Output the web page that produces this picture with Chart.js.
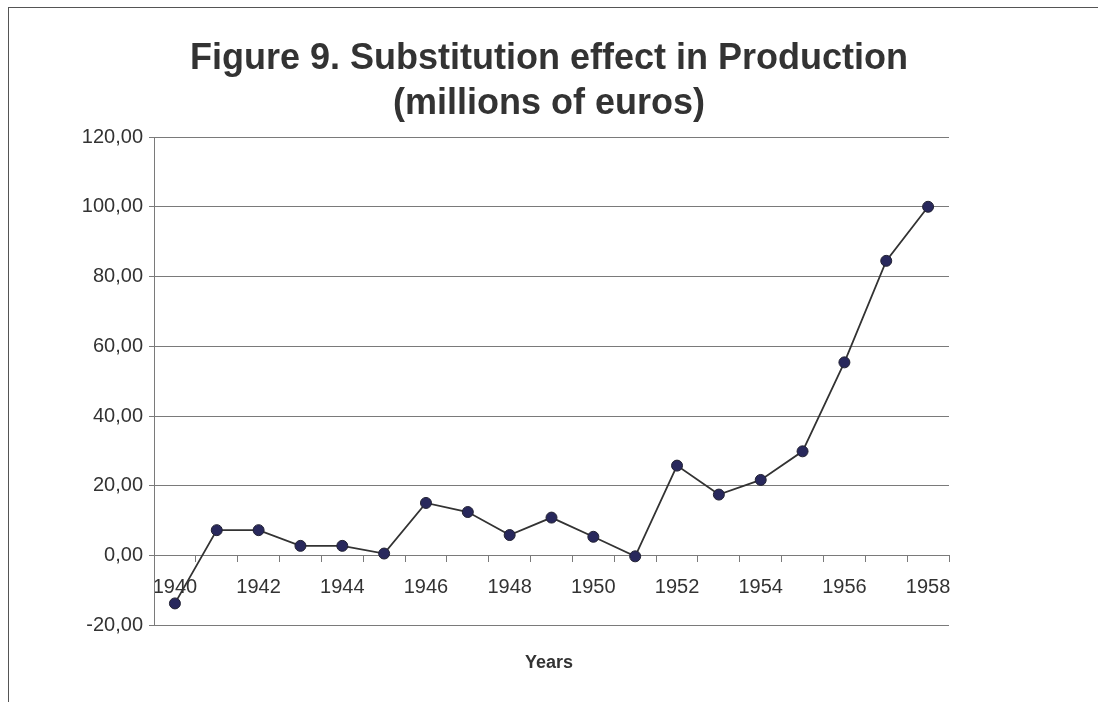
<!DOCTYPE html>
<html>
<head>
<meta charset="utf-8">
<title>Substitution effect in Production</title>
<script src="https://cdn.jsdelivr.net/npm/chart.js@4/dist/chart.umd.min.js"></script>
<style>
  html, body { margin: 0; padding: 0; background: #fff; }
  #wrap { position: relative; width: 1098px; height: 702px; overflow: hidden; }
  #frame {
    position: absolute; left: 8px; top: 7px; width: 1200px; height: 800px;
    border-left: 1px solid #555; border-top: 1px solid #555;
    pointer-events: none;
  }
  canvas { position: absolute; left: 0; top: 0; }
</style>
</head>
<body>
<div id="wrap">
  <canvas id="chart" width="1098" height="702"></canvas>
  <div id="frame"></div>
</div>
<script>
const years = ['1940', '1941', '1942', '1943', '1944', '1945', '1946', '1947', '1948', '1949',
               '1950', '1951', '1952', '1953', '1954', '1955', '1956', '1957', '1958'];
const substitution = [-13.7, 7.3, 7.3, 2.8, 2.8, 0.6, 15.1, 12.5, 5.9, 10.9,
                      5.4, -0.2, 25.8, 17.5, 21.7, 29.9, 55.4, 84.5, 100.0];
const yMin = -20;
const yMax = 120;
const yStep = 20;
const titleLines = ['Figure 9. Substitution effect in Production', '(millions of euros)'];
const xTitle = 'Years';

const FONT = '"Liberation Sans", Arial, sans-serif';
const TEXT = '#333333';
const AXIS = '#7a7a7a';

const ctx = document.getElementById('chart').getContext('2d');

new Chart(ctx, {
  type: 'line',
  data: {
    labels: years,
    datasets: [{
      label: 'Substitution effect',
      data: substitution,
      borderColor: '#333333',
      borderWidth: 1.8,
      backgroundColor: '#28285c',
      pointBackgroundColor: '#28285c',
      pointBorderColor: '#222233',
      pointBorderWidth: 1,
      pointRadius: 5.5,
      tension: 0,
      fill: false
    }]
  },
  options: {
    responsive: false,
    animation: false,
    layout: { padding: 0 },
    plugins: {
      legend: { display: false },
      tooltip: { enabled: false },
      title: {
        display: true,
        text: titleLines,
        color: TEXT,
        font: { family: FONT, size: 36, weight: 'bold', lineHeight: 1.25 },
        padding: { top: 37, bottom: 10 }
      },
      subtitle: {
        display: true,
        position: 'bottom',
        text: xTitle,
        color: TEXT,
        font: { family: FONT, size: 18, weight: 'bold', lineHeight: 1.2 },
        padding: { top: 27, bottom: 28 }
      }
    },
    scales: {
      x: {
        type: 'category',
        position: { y: 0 },
        offset: true,
        grid: {
          display: true,
          offset: true,
          drawOnChartArea: false,
          drawTicks: true,
          tickLength: 6,
          color: AXIS
        },
        border: { display: true, color: AXIS, width: 1 },
        ticks: {
          autoSkip: false,
          maxRotation: 0,
          padding: 14,
          color: TEXT,
          font: { family: FONT, size: 20 },
          // label every second year, keep the tick mark on the others
          callback: function (value, index) {
            return index % 2 === 0 ? this.getLabelForValue(value) : '';
          }
        }
      },
      y: {
        position: 'left',
        min: yMin,
        max: yMax,
        afterFit: (scale) => { scale.width = 154; },
        grid: {
          color: AXIS,
          lineWidth: 1,
          drawTicks: true,
          tickLength: 5
        },
        border: { display: true, color: AXIS, width: 1 },
        ticks: {
          stepSize: yStep,
          padding: 6,
          color: TEXT,
          font: { family: FONT, size: 20 },
          callback: (v) => v.toFixed(2).replace('.', ',')
        }
      },
      // empty right-hand axis, only reserves the margin beside the plot
      yRight: {
        position: 'right',
        afterFit: (scale) => { scale.width = 149; },
        grid: { display: false },
        border: { display: false },
        ticks: { display: false }
      }
    }
  }
});
</script>
</body>
</html>
